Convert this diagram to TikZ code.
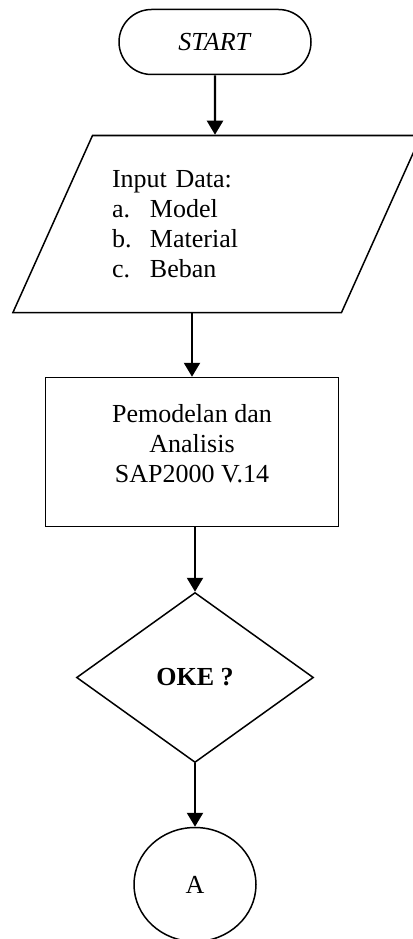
\documentclass[tikz,border=0pt]{standalone}
\usepackage{fontspec}
\setmainfont{Liberation Serif}
\usetikzlibrary{arrows.meta, shapes.geometric, shapes.misc, positioning}

\begin{document}
\begin{tikzpicture}[x=1pt,y=-1pt,on grid,>={Triangle[width=16pt,length=14pt]},
      line width=1.5pt, font=\fontsize{26}{30}\selectfont,
      every node/.style={draw,inner sep=0pt},
      terminal/.style={rounded rectangle,minimum width=192pt,minimum height=65pt},
      io/.style={trapezium,trapezium left angle=58,trapezium right angle=122,
        trapezium stretches=true,minimum width=409pt,minimum height=177pt,
        text width=210pt,align=left},
      process/.style={rectangle,minimum width=293pt,minimum height=149pt,align=center},
      decision/.style={diamond,minimum width=237pt,minimum height=170pt},
      connector/.style={ellipse,minimum width=122pt,minimum height=114pt},
      flow/.style={->,line width=2.2pt}]
      \useasboundingbox (0,0) rectangle (412,939);
      \node[terminal] (start) at (215,42) {\textit{START}};
      \node[io]       (input) [below right=182pt and 2pt of start]
        {Input Data:\\ \makebox[38pt][l]{a.}Model\\ \makebox[38pt][l]{b.}Material\\ \makebox[38pt][l]{c.}Beban};
      \node[process]  (proc) [below left=228pt and 25pt of input] {Pemodelan dan\\ Analisis\\ SAP2000 V.14\\[-12pt]};
      \node[decision] (oke) [below right=225.5pt and 3pt of proc] {\textbf{OKE ?}};
      \node[connector] (a) [below=207pt of oke] {A};
      \draw[flow] (start) -- (start |- input.north);
      \draw[flow] (input.south -| proc.north) -- (proc.north);
      \draw[flow] (proc.south -| oke.north) -- (oke.north);
      \draw[flow] (oke) -- (a);
\end{tikzpicture}
\end{document}
